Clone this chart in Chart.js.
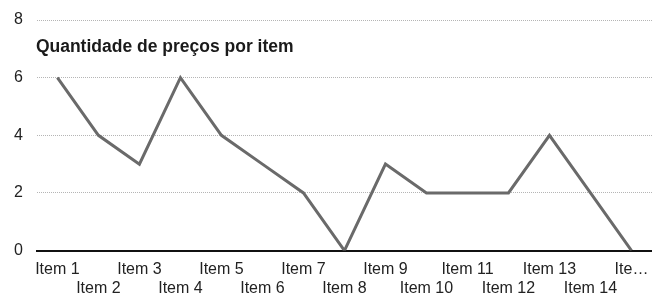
<!DOCTYPE html>
<html>
<head>
<meta charset="utf-8">
<script src="https://cdn.jsdelivr.net/npm/chart.js@4"></script>
<style>
  html, body { margin: 0; padding: 0; background: #fff; }
  #caixa { width: 652px; height: 299px; }
</style>
</head>
<body>
<div id="caixa"><canvas id="grafico"></canvas></div>
<script>
const categorias = ["Item 1", "Item 2", "Item 3", "Item 4", "Item 5", "Item 6", "Item 7", "Item 8",
  "Item 9", "Item 10", "Item 11", "Item 12", "Item 13", "Item 14", "Item 15"]
const quantidades = [6, 4, 3, 6, 4, 3, 2, 0, 3, 2, 2, 2, 4, 2, 0]
const marcasY = [0, 2, 4, 6, 8]
const titulo = "Quantidade de preços por item"

const fonte = "'Liberation Sans', Arial, sans-serif"

// titulo desenhado dentro da area do grafico
const tituloDentro = {
  id: "tituloDentro",
  afterDraw(chart) {
    const ctx = chart.ctx
    ctx.save()
    ctx.font = "bold 17.5px " + fonte
    ctx.fillStyle = "#1a1a1a"
    ctx.textBaseline = "middle"
    ctx.fillText(titulo, chart.chartArea.left - 1, chart.scales.y.getPixelForValue(7.05))
    ctx.restore()
  }
}

new Chart("grafico", {
  type: "line",
  data: {
    labels: categorias,
    datasets: [{
      data: quantidades,
      borderColor: "#6a6a6a",
      borderWidth: 3,
      pointRadius: 0,
      tension: 0,
      fill: false
    }]
  },
  options: {
    responsive: true,
    maintainAspectRatio: false,
    animation: false,
    layout: { padding: { left: 0, right: 0, top: 20, bottom: -8 } },
    plugins: { legend: { display: false }, tooltip: { enabled: false } },
    scales: {
      x: {
        offset: true,
        afterFit: function (eixo) { eixo.paddingRight = 0 },
        grid: { display: false, drawTicks: false },
        border: { display: true, color: "#111", width: 2 },
        ticks: {
          autoSkip: false,
          maxRotation: 0,
          padding: 9,
          color: "#222",
          font: { family: fonte, size: 16, lineHeight: 1.2 },
          callback: function (v, i) {
            let nome = categorias[i]
            if (i === categorias.length - 1) nome = "Ite\u2026"
            return i % 2 === 0 ? [nome, ""] : ["", nome]
          }
        }
      },
      y: {
        min: 0,
        max: 8,
        afterBuildTicks: function (eixo) { eixo.ticks = marcasY.map(v => ({ value: v })) },
        afterFit: function (eixo) { eixo.paddingTop = 0 },
        grid: {
          drawTicks: false,
          color: ctx => ctx.tick.value === 0 ? "rgba(0,0,0,0)" : "#b5b5b5",
          lineWidth: 1
        },
        border: { display: false, dash: [1, 1] },
        ticks: {
          padding: 14,
          color: "#222",
          font: { family: fonte, size: 16 }
        }
      }
    }
  },
  plugins: [tituloDentro]
})
</script>
</body>
</html>
